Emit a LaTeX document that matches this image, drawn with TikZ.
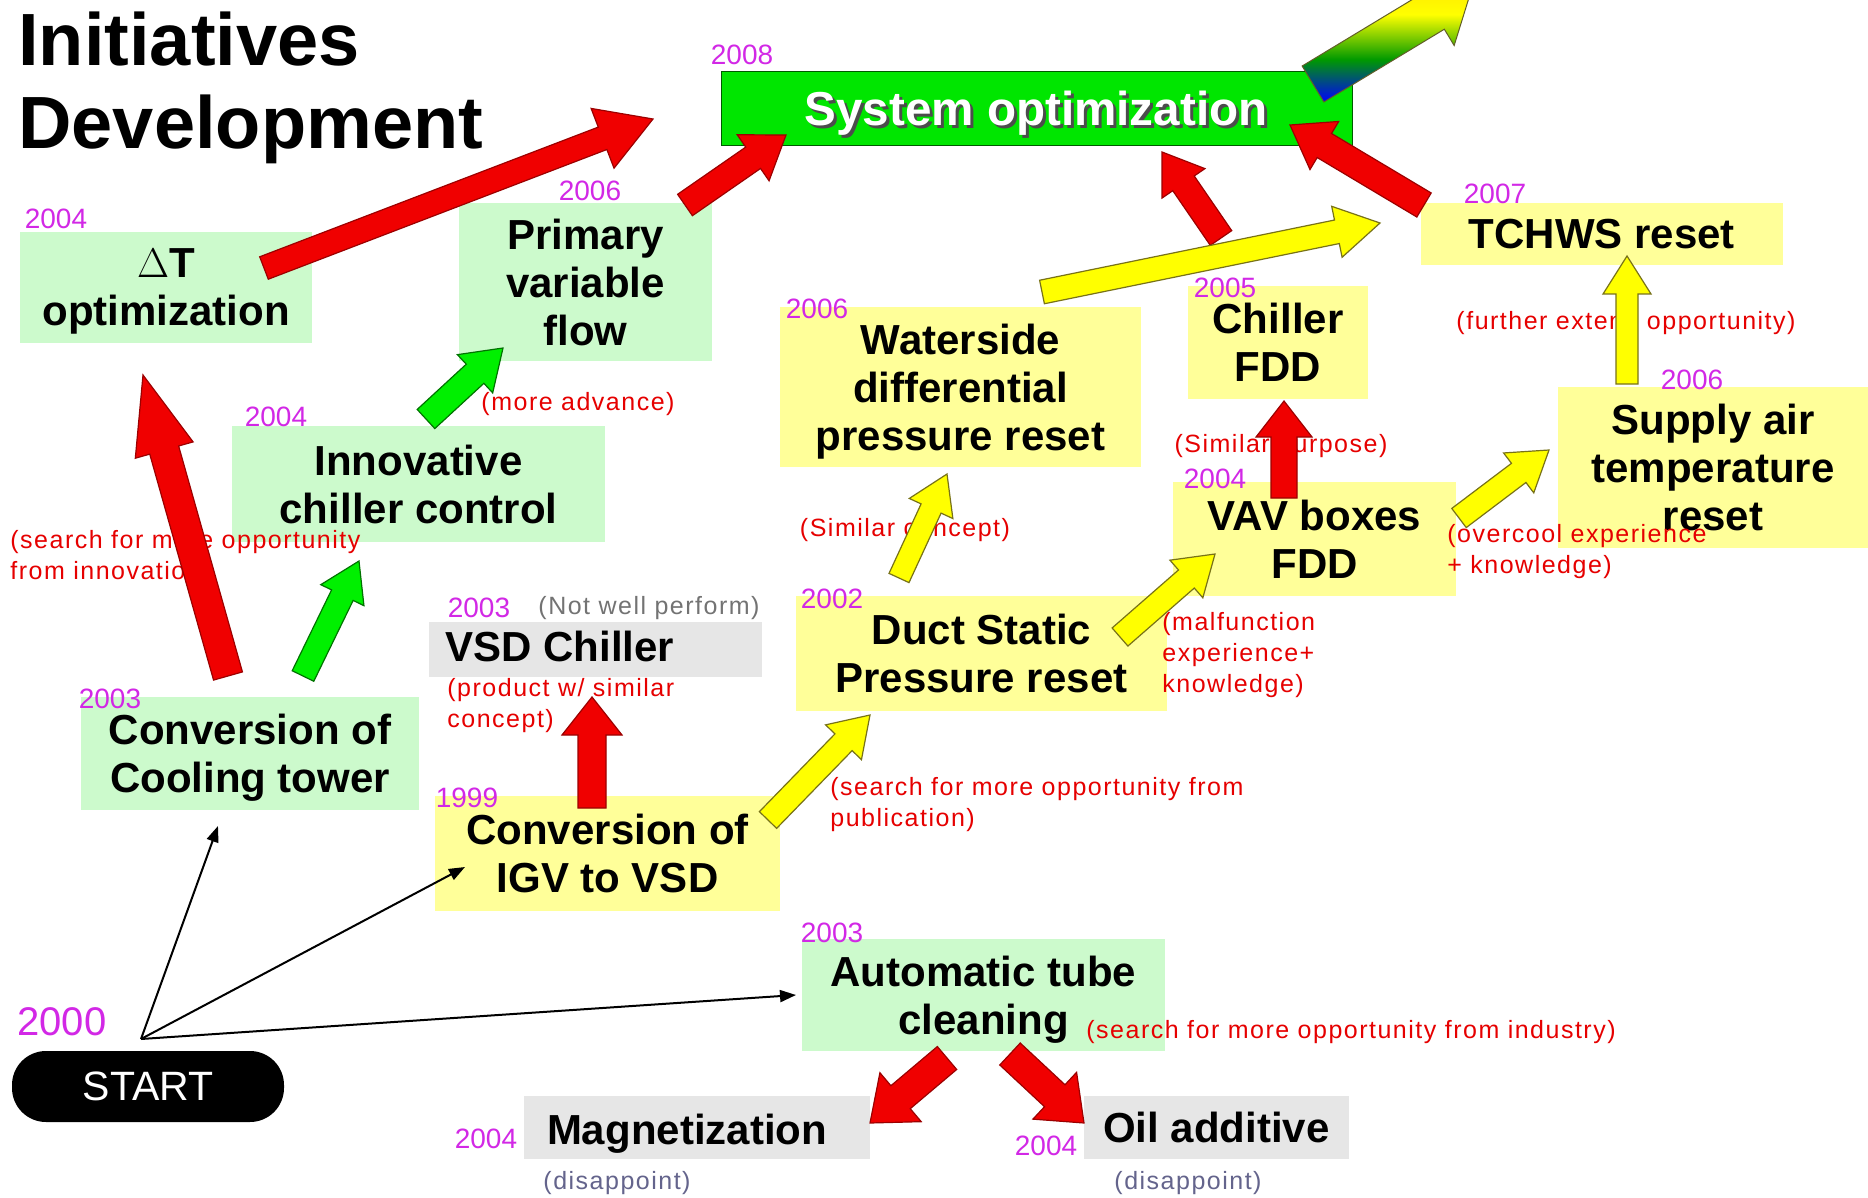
\documentclass[tikz,border=0pt]{standalone}
\usepackage{fontspec}
\setmainfont{Liberation Sans}
\newfontfamily\notefam[LetterSpace=6]{Liberation Sans}
\usetikzlibrary{calc,arrows.meta}
\definecolor{lgreen}{RGB}{204,250,204}
\definecolor{lyellow}{RGB}{255,255,153}
\definecolor{lgray}{RGB}{230,230,230}
\definecolor{sysgreen}{RGB}{0,230,0}
\definecolor{yearc}{RGB}{210,40,230}
\definecolor{notec}{RGB}{230,0,0}
\definecolor{arred}{RGB}{240,0,0}
\definecolor{argreen}{RGB}{0,240,0}
\definecolor{aryellow}{RGB}{255,255,0}
\definecolor{slate}{RGB}{100,100,140}
\pgfdeclareverticalshading{rainbowsh}{100bp}{color(0bp)=(blue); color(25bp)=(blue); color(42bp)=(green!60!black); color(60bp)=(yellow); color(80bp)=(yellow!70!orange); color(100bp)=(orange)}
\newcommand\barrow[6]{%
  \path ($(#3)!#6!(#2)$) coordinate (nk);
  \path[#1] ($(#2)!#4!90:(#3)$) -- ($(nk)!#4!90:(#3)$) -- ($(nk)!#5!90:(#3)$) -- (#3)
    -- ($(nk)!#5!-90:(#3)$) -- ($(nk)!#4!-90:(#3)$) -- ($(#2)!#4!-90:(#3)$) -- cycle;}
\begin{document}
\begin{tikzpicture}[x=0.5pt,y=-0.5pt,
  box/.style={inner sep=0pt, align=center, font=\fontsize{21}{24}\selectfont\bfseries},
  gbox/.style={box, fill=lgreen},
  ybox/.style={box, fill=lyellow},
  graybox/.style={box, fill=lgray},
  yr/.style={text=yearc, font=\fontsize{14}{16}\selectfont, inner sep=0pt},
  note/.style={text=notec, font=\notefam\fontsize{12.5}{15.5}\selectfont, inner sep=0pt, align=left},
  redA/.style={fill=arred, draw=arred!65!black, line width=0.6pt},
  greenA/.style={fill=argreen, draw=green!45!black, line width=0.6pt},
  yellowA/.style={fill=aryellow, draw=olive!80!black, line width=0.6pt},
  rainA/.style={shade, shading=rainbowsh, draw=olive!60!black, line width=0.5pt},
  thinA/.style={draw=black, line width=1pt, -{Triangle[length=8pt,width=6pt]}}]
\useasboundingbox (0,0) rectangle (1868,1198);
\clip (0,0) rectangle (1868,1198);
\fill[white] (0,0) rectangle (1868,1198);

% title
\node[anchor=base west, inner sep=0pt, font=\fontsize{37}{41}\selectfont\bfseries] (t1) at (18,66) {Initiatives};
\node[anchor=base west, inner sep=0pt, font=\fontsize{37}{41}\selectfont\bfseries] (t2) at (18,149) {Development};

% boxes
\node[draw=green!35!black, fill=sysgreen, minimum width=315.5pt, minimum height=37pt, inner sep=0pt] (sys) at (1036.5,108) {};
\node[inner sep=0pt, text=black!70, font=\fontsize{23.8}{26}\selectfont\bfseries] at (1039,116) {System optimization};
\node[inner sep=0pt, text=white, font=\fontsize{23.8}{26}\selectfont\bfseries] (systxt) at (1036,113) {System optimization};

\node[gbox, minimum width=146pt, minimum height=55.5pt] (dt) at (166,287.5) {$\Delta$T\\\smash{optimization}};
\node[gbox, minimum width=126.5pt, minimum height=79pt] (pvf) at (585.5,282) {Primary\\variable\\flow};
\node[gbox, minimum width=186.5pt, minimum height=58pt] (icc) at (418.5,484) {Innovative\\chiller control};
\node[gbox, minimum width=169pt, minimum height=56.5pt] (ct) at (250,753.5) {Conversion of\\\smash{Cooling tower}};
\node[graybox, minimum width=166.5pt, minimum height=27.5pt] (vsdbox) at (595.5,649.5) {};
\node[box] (vsd) at (560,646) {VSD Chiller};
\node[ybox, minimum width=172.5pt, minimum height=57.5pt] (igv) at (607.5,853.5) {Conversion of\\IGV to VSD};
\node[ybox, minimum width=180.5pt, minimum height=80pt] (ws) at (960.5,387) {Waterside\\differential\\\smash{pressure reset}};
\node[ybox, minimum width=90pt, minimum height=56.5pt] (cf) at (1278,342.5) {Chiller\\FDD};
\node[ybox, minimum width=181pt, minimum height=31pt] (tc) at (1602,234) {TCHWS reset};
\node[ybox, minimum width=155pt, minimum height=80.5pt] (sa) at (1713,467.5) {Supply air\\temperature\\reset};
\node[ybox, minimum width=141.5pt, minimum height=57pt] (vav) at (1314.5,539) {VAV boxes\\FDD};
\node[ybox, minimum width=185.5pt, minimum height=57.5pt] (ds) at (981.5,653.5) {Duct Static\\Pressure reset};
\node[gbox, minimum width=181.5pt, minimum height=56pt] (at) at (983.5,995) {Automatic tube\\\smash{cleaning}};
\node[graybox, minimum width=173pt, minimum height=31.5pt] (mg) at (697,1127.5) {};
\node[box] (mgt) at (687,1134) {Magnetization};
\node[graybox, minimum width=132.5pt, minimum height=31.5pt] (oil) at (1216.5,1127.5) {Oil additive};
\node[fill=black, rounded corners=17pt, minimum width=136pt, minimum height=35.5pt, inner sep=0pt, text=white, font=\fontsize{20.5}{24}\selectfont] (start) at (148,1086.5) {START};

% years
\node[yr] (y2008) at (742,55) {2008};
\node[yr] (ydt) at (56,219) {2004};
\node[yr] (ypvf) at (590,191) {2006};
\node[yr] (yicc) at (276,417) {2004};
\node[yr] (yct) at (110,699) {2003};
\node[yr] (yvsd) at (479,608) {2003};
\node[yr] (yigv) at (467,798) {1999};
\node[yr] (yws) at (817,309) {2006};
\node[yr] (ycf) at (1225,288) {2005};
\node[yr] (ytc) at (1495,194) {2007};
\node[yr] (ysa) at (1692,380) {2006};
\node[yr] (yvav) at (1215,479) {2004};
\node[yr] (yds) at (832,599) {2002};
\node[yr] (yat) at (832,933) {2003};
\node[yr] (ymg) at (486,1139) {2004};
\node[yr] (yoil) at (1046,1146) {2004};
\node[yr, font=\fontsize{20}{24}\selectfont] (y2000) at (62,1022) {2000};

% notes
\node[note] (n1) at (578,404) {(more advance)};
\node[note, anchor=west] (n2) at (10,558) {(search for more opportunity\\from innovation)};
\node[note] (n3) at (905,530) {(Similar concept)};
\node[note] (n4) at (1281,446) {(Similar purpose)};
\node[note] (n5) at (1626,323) {(further extend opportunity)};
\node[note, anchor=west] (n6) at (1447,552) {(overcool experience\\+ knowledge)};
\node[note, anchor=west] (n7) at (1162,655) {(malfunction\\experience+\\knowledge)};
\node[note, anchor=west] (n8) at (830,805) {(search for more opportunity from\\publication)};
\node[note, anchor=west] (n9) at (1086,1032) {(search for more opportunity from industry)};
\node[note, anchor=west] (n10) at (447,706) {(product w/ similar\\concept)};
\node[note, text=black!55] (n11) at (649,608) {(Not well perform)};
\node[note, text=slate] (n12) at (617,1183) {(disappoint)};
\node[note, text=slate] (n13) at (1188,1183) {(disappoint)};

% arrow end points
\coordinate (r1a) at (264,268);  \coordinate (r1b) at (653,119);
\coordinate (r2a) at (685,205);  \coordinate (r2b) at (786,135);
\coordinate (r3a) at (1221,238); \coordinate (r3b) at (1162,152);
\coordinate (r4a) at (1424,205); \coordinate (r4b) at (1290,125);
\coordinate (r5a) at (228,676);  \coordinate (r5b) at (143,375);
\coordinate (r6a) at (592,808);  \coordinate (r6b) at (592,697);
\coordinate (r7a) at (1284,498); \coordinate (r7b) at (1284,401);
\coordinate (r8a) at (947,1058); \coordinate (r8b) at (870,1123);
\coordinate (r9a) at (1010,1054);\coordinate (r9b) at (1084,1123);
\coordinate (g1a) at (303,676);  \coordinate (g1b) at (359,561);
\coordinate (g2a) at (426,419);  \coordinate (g2b) at (503,348);
\coordinate (y1a) at (1042,292); \coordinate (y1b) at (1380,223);
\coordinate (y2a) at (899,578);  \coordinate (y2b) at (947,474);
\coordinate (y3a) at (1120,637); \coordinate (y3b) at (1215,554);
\coordinate (y4a) at (768,820);  \coordinate (y4b) at (870,715);
\coordinate (y5a) at (1459,518); \coordinate (y5b) at (1549,450);
\coordinate (y6a) at (1627,384); \coordinate (y6b) at (1627,256);
\coordinate (rba) at (1313,84);  \coordinate (rbb) at (1472,-12);
\coordinate (s0) at (141,1039);
\coordinate (e1) at (218,826);
\coordinate (e2) at (465,867);
\coordinate (e3) at (796,995);

% block arrows
\barrow{rainA}{rba}{rbb}{10.5pt}{20pt}{22.5pt}
\barrow{redA}{r1a}{r1b}{6pt}{16pt}{27pt}
\barrow{redA}{r2a}{r2b}{6.5pt}{14pt}{20pt}
\barrow{redA}{r3a}{r3b}{6.5pt}{13pt}{19pt}
\barrow{redA}{r4a}{r4b}{7pt}{14pt}{20pt}
\barrow{redA}{r5a}{r5b}{7.5pt}{15pt}{39pt}
\barrow{redA}{r6a}{r6b}{7pt}{15pt}{19pt}
\barrow{redA}{r7a}{r7b}{6.5pt}{14pt}{18pt}
\barrow{redA}{r8a}{r8b}{7.5pt}{16pt}{20pt}
\barrow{redA}{r9a}{r9b}{7.5pt}{16pt}{20pt}
\barrow{greenA}{g1a}{g1b}{6pt}{12pt}{19pt}
\barrow{greenA}{g2a}{g2b}{6.5pt}{13pt}{19pt}
\barrow{yellowA}{y1a}{y1b}{6pt}{13pt}{22pt}
\barrow{yellowA}{y2a}{y2b}{5.5pt}{12pt}{19pt}
\barrow{yellowA}{y3a}{y3b}{6pt}{12.5pt}{19pt}
\barrow{yellowA}{y4a}{y4b}{6pt}{12.5pt}{19pt}
\barrow{yellowA}{y5a}{y5b}{6pt}{12.5pt}{19pt}
\barrow{yellowA}{y6a}{y6b}{5.5pt}{12pt}{19pt}

% thin arrows from start
\draw[thinA] (s0) -- (e1);
\draw[thinA] (s0) -- (e2);
\draw[thinA] (s0) -- (e3);
\end{tikzpicture}
\end{document}
